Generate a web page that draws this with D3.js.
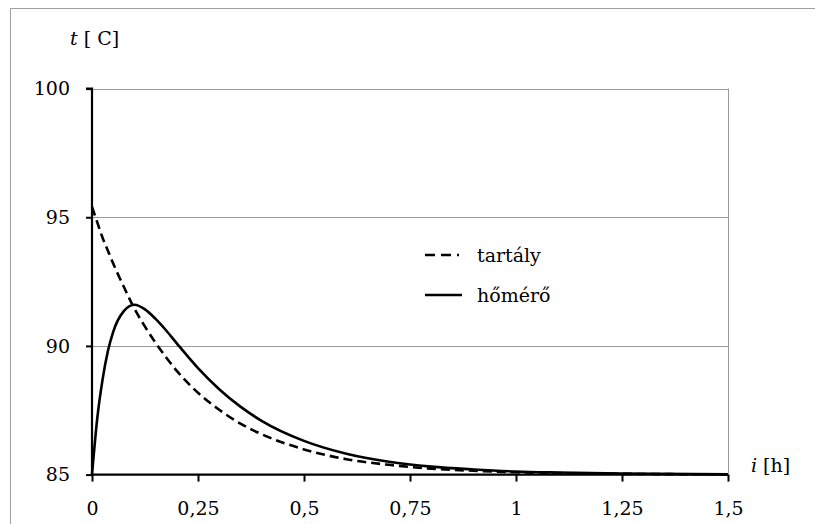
<!DOCTYPE html>
<html>
<head>
<meta charset="utf-8">
<script src="https://cdn.jsdelivr.net/npm/d3@7"></script>
<style>
  body { margin: 0; background: #fff; }
  svg { display: block; }
</style>
</head>
<body>
<svg id="chart" width="815" height="524"></svg>
<script>
// time in hours
const hours = [0, 0.0125, 0.025, 0.0375, 0.05, 0.075, 0.1, 0.125, 0.15, 0.175, 0.2, 0.25, 0.3, 0.35, 0.4, 0.5, 0.6, 0.7, 0.8, 0.9, 1.0, 1.1, 1.25, 1.5];
// tank temperature (dashed)
const tartaly = [95.4, 94.8, 94.2, 93.7, 93.2, 92.3, 91.45, 90.75, 90.12, 89.55, 89.03, 88.18, 87.52, 86.98, 86.57, 85.98, 85.6, 85.38, 85.23, 85.15, 85.09, 85.06, 85.03, 85.01];
// thermometer reading (solid)
const homero = [85, 87.2, 88.7, 89.8, 90.55, 91.35, 91.6, 91.42, 91.05, 90.6, 90.1, 89.14, 88.32, 87.64, 87.09, 86.31, 85.81, 85.5, 85.31, 85.2, 85.12, 85.08, 85.04, 85.01];

const xTicks = [0, 0.25, 0.5, 0.75, 1, 1.25, 1.5];
const yTicks = [85, 90, 95, 100];
const fmt = d => String(d).replace('.', ',');
const serif = '"DejaVu Serif", serif';

const svg = d3.select('#chart')
  .attr('font-family', serif)
  .attr('font-size', 19);

const x = d3.scaleLinear().domain([0, 1.5]).range([92, 728]);
const y = d3.scaleLinear().domain([85, 100]).range([474.6, 88.6]);

// outer frame (runs off the right and bottom edges)
svg.append('rect')
  .attr('x', 10.5).attr('y', 8.5).attr('width', 900).attr('height', 600)
  .attr('fill', 'none').attr('stroke', '#a0a0a0').attr('stroke-width', 1);

// gridlines
svg.append('g').selectAll('line').data(yTicks.filter(d => d > 85)).join('line')
  .attr('x1', x(0)).attr('x2', x(1.5))
  .attr('y1', d => Math.round(y(d)) + 0.5).attr('y2', d => Math.round(y(d)) + 0.5)
  .attr('stroke', '#999').attr('stroke-width', 1);

// right plot border
svg.append('line')
  .attr('x1', x(1.5) + 0.5).attr('x2', x(1.5) + 0.5)
  .attr('y1', y(100)).attr('y2', y(85))
  .attr('stroke', '#999').attr('stroke-width', 1);

// axes
const yAxis = d3.axisLeft(y).tickValues(yTicks).tickSize(6).tickPadding(16).tickFormat(d => d);
const xAxis = d3.axisBottom(x).tickValues(xTicks).tickSize(7).tickPadding(20).tickFormat(fmt);

const gy = svg.append('g').attr('transform', `translate(${x(0)},0)`).call(yAxis);
const gx = svg.append('g').attr('transform', `translate(0,${y(85)})`).call(xAxis);

[gy, gx].forEach(g => {
  g.attr('font-family', serif).attr('font-size', 19);
  g.select('.domain').attr('stroke', '#000').attr('stroke-width', 2.2);
  g.selectAll('.tick line').attr('stroke', '#000').attr('stroke-width', 2);
  g.selectAll('.tick text').attr('fill', '#000');
});
gy.select('.domain').attr('d', `M-6,${y(100)}H0V${y(85)}`);
gx.select('.domain').attr('d', `M${x(0)},0H${x(1.5)}`);

// curves
const line = vals => d3.line()
  .x((d, i) => x(hours[i]))
  .y(d => y(d))
  .curve(d3.curveMonotoneX)(vals);

svg.append('path').attr('d', line(tartaly))
  .attr('fill', 'none').attr('stroke', '#000').attr('stroke-width', 2.6)
  .attr('stroke-dasharray', '9,5');

svg.append('path').attr('d', line(homero))
  .attr('fill', 'none').attr('stroke', '#000').attr('stroke-width', 2.6);

// legend
const legend = svg.append('g');
legend.append('line').attr('x1', 425).attr('x2', 459).attr('y1', 255).attr('y2', 255)
  .attr('stroke', '#000').attr('stroke-width', 2.6).attr('stroke-dasharray', '10,6');
legend.append('text').attr('x', 477).attr('y', 262).text('tartály');
legend.append('line').attr('x1', 425).attr('x2', 462).attr('y1', 295).attr('y2', 295)
  .attr('stroke', '#000').attr('stroke-width', 2.6);
legend.append('text').attr('x', 477).attr('y', 302).text('hőmérő');

// axis titles
const yt = svg.append('text').attr('x', 70).attr('y', 45);
yt.append('tspan').attr('font-style', 'italic').text('t');
yt.append('tspan').text(' [ C]');

const xt = svg.append('text').attr('x', 751).attr('y', 472);
xt.append('tspan').attr('font-style', 'italic').text('i');
xt.append('tspan').text(' [h]');
</script>
</body>
</html>
